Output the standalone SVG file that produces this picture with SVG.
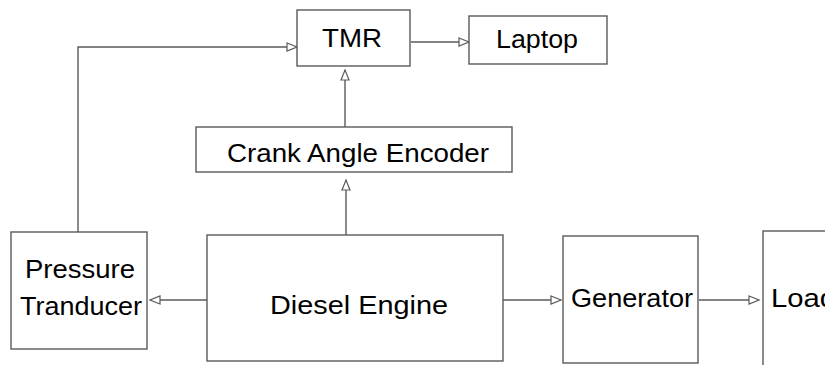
<svg xmlns="http://www.w3.org/2000/svg" width="825" height="365" viewBox="0 0 825 365">
<style>
.box{fill:#fff;stroke:#5a5a5a;stroke-width:1.4}
.lbl{font-family:"Liberation Sans",Arial,sans-serif;font-size:25px;fill:#000}
.con{fill:none;stroke:#5a5a5a;stroke-width:1.4}
</style>
<defs>
<marker id="arr" markerUnits="userSpaceOnUse" markerWidth="12" markerHeight="10" refX="11" refY="5" orient="auto" overflow="visible">
<path d="M1,1 L11,5 L1,9 Z" fill="#fff" stroke="#5a5a5a" stroke-width="1.2"/>
</marker>
</defs>
<rect width="825" height="365" fill="#fff"/>
<g id="connectors">
<path class="con" d="M78,232 V47 H297" marker-end="url(#arr)"/>
<path class="con" d="M411,42 H469" marker-end="url(#arr)"/>
<path class="con" d="M345,127 V70" marker-end="url(#arr)"/>
<path class="con" d="M346,235 V180" marker-end="url(#arr)"/>
<path class="con" d="M207,300 H150" marker-end="url(#arr)"/>
<path class="con" d="M503,300 H561" marker-end="url(#arr)"/>
<path class="con" d="M699,300 H759" marker-end="url(#arr)"/>
</g>
<g id="tmr">
<rect class="box" x="297" y="10" width="113" height="56"/>
<text class="lbl" x="322" y="47" textLength="60" lengthAdjust="spacingAndGlyphs">TMR</text>
</g>
<g id="laptop">
<rect class="box" x="469" y="16" width="138" height="48"/>
<text class="lbl" x="496" y="48" textLength="82" lengthAdjust="spacingAndGlyphs">Laptop</text>
</g>
<g id="crank">
<rect class="box" x="196" y="127" width="316" height="45"/>
<text class="lbl" x="227" y="162" textLength="262" lengthAdjust="spacingAndGlyphs">Crank Angle Encoder</text>
</g>
<g id="pressure">
<rect class="box" x="11" y="232" width="136" height="117"/>
<text class="lbl" x="25" y="278" textLength="110" lengthAdjust="spacingAndGlyphs">Pressure</text>
<text class="lbl" x="20" y="315" textLength="122" lengthAdjust="spacingAndGlyphs">Tranducer</text>
</g>
<g id="diesel">
<rect class="box" x="207" y="235" width="296" height="126"/>
<text class="lbl" x="270" y="314" textLength="178" lengthAdjust="spacingAndGlyphs">Diesel Engine</text>
</g>
<g id="generator">
<rect class="box" x="563" y="236" width="135" height="127"/>
<text class="lbl" x="571" y="307" textLength="122" lengthAdjust="spacingAndGlyphs">Generator</text>
</g>
<g id="load">
<rect class="box" x="763" y="231" width="120" height="150"/>
<text class="lbl" x="771" y="307" textLength="65" lengthAdjust="spacingAndGlyphs">Load</text>
</g>
</svg>
